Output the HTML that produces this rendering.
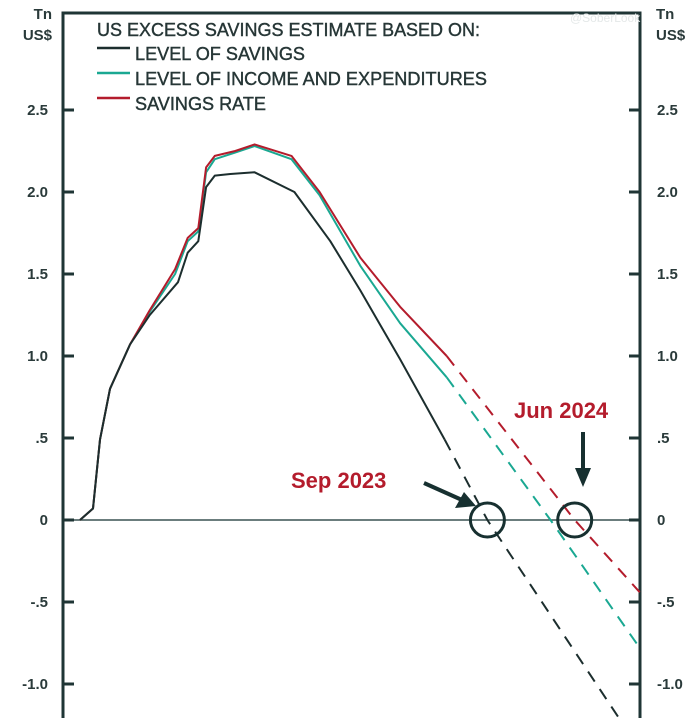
<!DOCTYPE html>
<html><head><meta charset="utf-8"><style>
body{margin:0;background:#fff;}
svg{display:block;font-family:"Liberation Sans",sans-serif;}
</style></head><body>
<svg id="chart" width="700" height="718" viewBox="0 0 700 718">
<rect x="0" y="0" width="700" height="718" fill="#fff"/>
<g id="frame"></g>
<g id="lines"></g>
<g id="labels"></g>
</svg>
<script>
const yTicks=[2.5,2.0,1.5,1.0,0.5,0,-0.5,-1.0];
const yTickLabels=["2.5","2.0","1.5","1.0",".5","0","-.5","-1.0"];
const seriesNames=["LEVEL OF SAVINGS","LEVEL OF INCOME AND EXPENDITURES","SAVINGS RATE"];
const monthsBlack=[0,1.34,2.06,3.09,5.15,7.2,10.1,11.1,12.2,13,13.9,15.5,18,22.1,25.8,28.9,33,37.6];
const valuesBlack=[0,0.07,0.49,0.8,1.07,1.25,1.45,1.63,1.7,2.03,2.1,2.11,2.12,2.0,1.7,1.4,0.98,0.49];
const monthsGreen=[0,1.34,2.06,3.09,5.15,7.2,9.8,11.1,12.2,13,13.9,16,18,21.8,24.7,28.9,33,37.8];
const valuesGreen=[0,0.07,0.49,0.8,1.07,1.27,1.5,1.7,1.76,2.12,2.2,2.24,2.28,2.2,1.98,1.55,1.2,0.87];
const monthsRed=[0,1.34,2.06,3.09,5.15,7.2,9.8,11.1,12.2,13,13.9,16,18,21.8,24.7,28.9,33,37.8];
const valuesRed=[0,0.07,0.49,0.8,1.07,1.28,1.53,1.72,1.78,2.15,2.22,2.25,2.29,2.22,2.0,1.6,1.3,1.0];
const projMonthsBlack=[37.6,42,55.7];
const projValuesBlack=[0.49,0,-1.22];
const projMonthsGreen=[37.8,48.5,57.7];
const projValuesGreen=[0.87,0,-0.78];
const projMonthsRed=[37.8,51,57.7];
const projValuesRed=[1.0,0,-0.44];
const ns="http://www.w3.org/2000/svg";
const X0=63,X1=640,Y0=13;
function xs(m){return 80+m*9.7;}
function ys(v){return 520-v*164;}
function mk(tag,attrs,parent,text){const e=document.createElementNS(ns,tag);for(const k in attrs)e.setAttribute(k,attrs[k]);if(text!==undefined)e.textContent=text;parent.appendChild(e);return e;}
const frame=document.getElementById('frame'),lines=document.getElementById('lines'),labels=document.getElementById('labels');
const ax="#1f3535";
let f=mk('path',{d:`M${X0} 718 V${Y0} H${X1} V718`,fill:'none',stroke:ax,'stroke-width':3},frame);


let z=mk('line',{x1:X0,x2:X1,y1:ys(0),y2:ys(0),stroke:'#3a5252','stroke-width':1.5},frame);


yTicks.forEach((t,i)=>{
  const y=ys(t);
  mk('line',{x1:X0,x2:X0+11,y1:y,y2:y,stroke:ax,'stroke-width':3},frame);
  mk('line',{x1:X1-11,x2:X1,y1:y,y2:y,stroke:ax,'stroke-width':3},frame);
  let l=mk('text',{x:48,y:y+5,'text-anchor':'end','font-size':15,'font-weight':'bold',fill:'#2a3a3a'},labels,yTickLabels[i]);
  
  
  let r=mk('text',{x:657,y:y+5,'text-anchor':'start','font-size':15,'font-weight':'bold',fill:'#2a3a3a'},labels,yTickLabels[i]);
  
  
});
[[52,'end'],[656,'start']].forEach(([x,a])=>{
  let t=mk('text',{x:x,y:19,'text-anchor':a,'font-size':15,'font-weight':'bold',fill:'#2a3a3a'},labels,'Tn');
  
  
  let u=mk('text',{x:x,y:40,'text-anchor':a,'font-size':15,'font-weight':'bold',fill:'#2a3a3a'},labels,'US$');
  
  
});
function pts(ms,vs){return ms.map((m,i)=>xs(m).toFixed(1)+','+ys(vs[i]).toFixed(1)).join(' ');}
const cols=["#1c2e2e","#1aa892","#b41c2c"];
const sets=[[monthsBlack,valuesBlack,projMonthsBlack,projValuesBlack],[monthsGreen,valuesGreen,projMonthsGreen,projValuesGreen],[monthsRed,valuesRed,projMonthsRed,projValuesRed]];
[1,2,0].forEach(i=>{
  const s=sets[i];
  let p=mk('polyline',{points:pts(s[0],s[1]),fill:'none',stroke:cols[i],'stroke-width':2,'stroke-linejoin':'round'},lines);
  
  
  let d=mk('polyline',{points:pts(s[2],s[3]),fill:'none',stroke:cols[i],'stroke-width':2,'stroke-dasharray':'12,9'},lines);
  
  
});
const txtStyle={'font-size':18,fill:'#263636',stroke:'#263636','stroke-width':0.4,lengthAdjust:'spacingAndGlyphs'};
let lt=mk('text',Object.assign({x:97,y:36,textLength:383},txtStyle),labels,'US EXCESS SAVINGS ESTIMATE BASED ON:');


const legendLens=[170,352,131];
seriesNames.forEach((n,i)=>{
  const y=60+i*25;
  let sw=mk('line',{x1:97,x2:130,y1:y-12,y2:y-12,stroke:cols[i],'stroke-width':2.5},labels);
  
  
  let t=mk('text',Object.assign({x:135,y:y,textLength:legendLens[i]},txtStyle),labels,n);
  
  
});
let s1=mk('text',{x:291,y:488,'font-size':22,'font-weight':'bold',fill:'#b41c2c'},labels,'Sep 2023');


let s2=mk('text',{x:514,y:418,'font-size':22,'font-weight':'bold',fill:'#b41c2c'},labels,'Jun 2024');


mk('line',{x1:424,y1:483,x2:462,y2:500,stroke:'#173030','stroke-width':4},labels);
mk('polygon',{points:'476,506 455,508 464,492',fill:'#173030'},labels);
mk('line',{x1:583,y1:432,x2:583,y2:470,stroke:'#173030','stroke-width':4},labels);
mk('polygon',{points:'583,487 575,468 591,468',fill:'#173030'},labels);
let c1=mk('circle',{cx:xs(42),cy:ys(0),r:17,fill:'none',stroke:'#173030','stroke-width':3},labels);


let c2=mk('circle',{cx:xs(51),cy:ys(0),r:17,fill:'none',stroke:'#173030','stroke-width':3},labels);


let w=mk('text',{x:570,y:22,'font-size':12,fill:'#e4e8e8'},labels,'@SoberLook');


</script>
</body></html>
